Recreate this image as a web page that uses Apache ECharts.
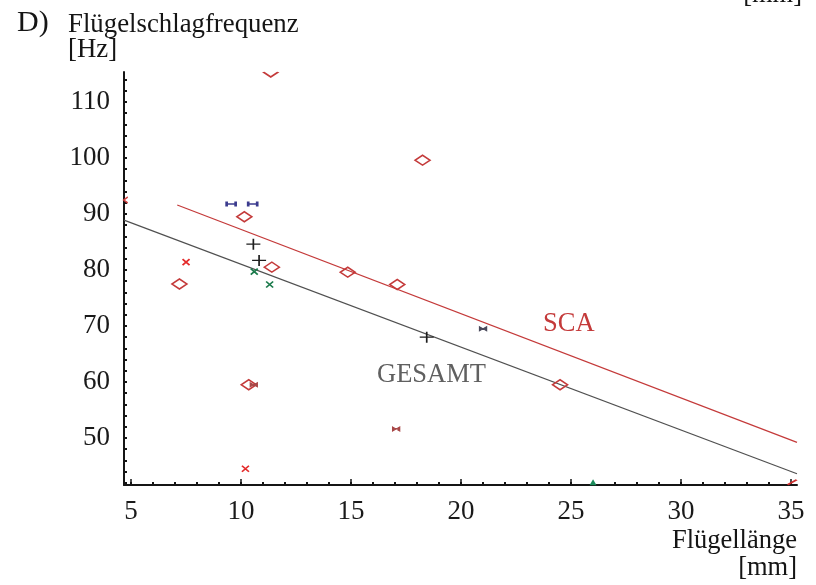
<!DOCTYPE html>
<html>
<head>
<meta charset="utf-8">
<script src="https://cdn.jsdelivr.net/npm/echarts@6/dist/echarts.min.js"></script>
<style>
  html, body { margin: 0; padding: 0; background: #fff; }
  #chart { width: 816px; height: 585px; }
</style>
</head>
<body>
<div id="chart"></div>
<script>
// Wing length (mm) vs. wing-beat frequency (Hz)

// axis ranges and tick labels
const xRange = [4.68, 35.27];
const yRange = [41.6, 115.35];
const xTickLabels = [5, 10, 15, 20, 25, 30, 35];
const yTickLabels = [50, 60, 70, 80, 90, 100, 110];

// SCA (open diamonds)
const scaLength = [7.2, 10.15, 11.4, 14.85, 17.1, 18.25, 24.5, 10.35];
const scaFreq   = [77.5, 89.5, 80.5, 79.6, 77.4, 99.6, 59.5, 59.5];
// SCA point cut at the top edge of the plot
const scaTopLength = [11.35];
const scaTopFreq   = [114.9];

// other groups
const beamLength  = [9.55, 10.53];
const beamFreq    = [91.8, 91.8];
const plusLength  = [10.56, 10.82, 18.44];
const plusFreq    = [84.6, 81.7, 68.0];
const greenXLength = [10.6, 11.3];
const greenXFreq   = [79.7, 77.4];
const redXLength  = [7.5, 10.2];
const redXFreq    = [81.4, 44.5];
const bowDarkLength = [21.0];
const bowDarkFreq   = [69.5];
const bowRedLength  = [17.05, 10.58];
const bowRedFreq    = [51.6, 59.5];
const triLength   = [26.0];
const triFreq     = [42.1];
const edgeLeftLength  = [4.76];
const edgeLeftFreq    = [92.5];
const edgeRightLength = [35.05];
const edgeRightFreq   = [42.1];

// regression lines (end points)
const gesamtLineLength = [4.68, 35.27];
const gesamtLineFreq   = [88.9, 43.6];
const scaLineLength    = [7.1, 35.27];
const scaLineFreq      = [91.6, 49.2];

const FONT = '"Liberation Serif", "Times New Roman", serif';
const RED = '#c43a3a';

function pairs(xs, ys) { return xs.map((x, i) => [x, ys[i]]); }
function range(a, b, step) { const r = []; for (let v = a; v <= b + 1e-9; v += step) r.push(v); return r; }

function scatter(name, xs, ys, symbol, size, stroke, fill, width) {
  return {
    name, type: 'scatter', data: pairs(xs, ys),
    symbol, symbolSize: size, clip: false, z: 5,
    itemStyle: { color: fill, borderColor: stroke, borderWidth: width, opacity: 1 },
    emphasis: { disabled: true }
  };
}

const SYM = {
  diamond: 'path://M0,5 L8,0 L16,5 L8,10 Z',
  chevron: 'path://M0,0 L8,5 L16,0',
  plus: 'path://M0,5 L14,5 M7,0 L7,10',
  cross: 'path://M0,0 L10,10 M0,10 L10,0',
  beam: 'path://M0,0 L0,6 M0,3 L10,3 M10,0 L10,6',
  bow: 'path://M0,0 L10,6 L10,0 L0,6 Z',
  leftTick: 'path://M6,0 L0,4 L6,8',
  slash: 'path://M0,6 L10,0'
};
const NONE = 'rgba(255,255,255,0)';

function label(x, y, text, size, color, align) {
  return { type: 'text', x, y, silent: true,
           style: { text, font: size + 'px ' + FONT, fill: color, align, verticalAlign: 'middle' } };
}

const chart = echarts.init(document.getElementById('chart'), null, { renderer: 'canvas' });

chart.setOption({
  backgroundColor: '#ffffff',
  animation: false,
  grid: { left: 124, right: 19, top: 72, bottom: 100 },
  xAxis: [
    {
      type: 'value', min: xRange[0], max: xRange[1],
      axisLine: { show: true, onZero: false, lineStyle: { color: '#151515', width: 2 } },
      axisTick: { show: true, inside: true, length: 6, customValues: xTickLabels,
                  lineStyle: { color: '#151515', width: 1.5 } },
      axisLabel: { customValues: xTickLabels, margin: 13, fontSize: 27, fontFamily: FONT, color: '#1a1a1a' },
      splitLine: { show: false }
    },
    {
      type: 'value', min: xRange[0], max: xRange[1], position: 'bottom', offset: 0,
      axisLine: { show: false },
      axisTick: { show: true, inside: true, length: 3, customValues: range(5, 35, 1),
                  lineStyle: { color: '#151515', width: 2 } },
      axisLabel: { show: false },
      splitLine: { show: false }
    }
  ],
  yAxis: {
    type: 'value', min: yRange[0], max: yRange[1],
    axisLine: { show: true, onZero: false, lineStyle: { color: '#151515', width: 2 } },
    axisTick: { show: true, inside: true, length: 3, customValues: range(42, 114, 2),
                lineStyle: { color: '#151515', width: 2 } },
    axisLabel: { customValues: yTickLabels, margin: 14, fontSize: 27, fontFamily: FONT, color: '#1a1a1a' },
    splitLine: { show: false }
  },
  series: [
    {
      name: 'GESAMT', type: 'line', data: pairs(gesamtLineLength, gesamtLineFreq),
      symbol: 'none', lineStyle: { color: '#505050', width: 1.2 }, z: 3, silent: true
    },
    {
      name: 'SCA', type: 'line', data: pairs(scaLineLength, scaLineFreq),
      symbol: 'none', lineStyle: { color: RED, width: 1.3 }, z: 3, silent: true
    },
    scatter('SCA Punkte', scaLength, scaFreq, SYM.diamond, [15, 10], RED, NONE, 1.6),
    scatter('SCA oben', scaTopLength, scaTopFreq, SYM.chevron, [15, 5], RED, NONE, 1.6),
    scatter('Gruppe 1', beamLength, beamFreq, SYM.beam, [9, 5], '#3b3b8e', NONE, 2),
    scatter('Gruppe 2', plusLength, plusFreq, SYM.plus, [14, 11], '#1e1e1e', NONE, 1.5),
    scatter('Gruppe 3', greenXLength, greenXFreq, SYM.cross, [7, 6], '#1b7a4b', NONE, 1.6),
    scatter('Gruppe 4', redXLength, redXFreq, SYM.cross, [7, 6], '#e42a2a', NONE, 1.6),
    scatter('Gruppe 5', bowDarkLength, bowDarkFreq, SYM.bow, [7, 4], '#4a4a5c', '#4a4a5c', 1),
    scatter('Gruppe 6', bowRedLength, bowRedFreq, SYM.bow, [7, 4], '#a84848', '#a84848', 1),
    scatter('Gruppe 7', triLength, triFreq, 'triangle', [7, 6], '#1a8a5a', '#1a8a5a', 0),
    scatter('Rand links', edgeLeftLength, edgeLeftFreq, SYM.leftTick, [4, 6], '#d04040', NONE, 1.5),
    scatter('Rand rechts', edgeRightLength, edgeRightFreq, SYM.slash, [9, 5], '#d03030', NONE, 2)
  ],
  graphic: [
    label(17, 23.5, 'D)', 30, '#151515', 'left'),
    label(68, 25, 'Flügelschlagfrequenz', 26.8, '#151515', 'left'),
    label(68, 50, '[Hz]', 26.8, '#151515', 'left'),
    label(797, 541, 'Flügellänge', 26.5, '#151515', 'right'),
    label(797, 568, '[mm]', 26.5, '#151515', 'right'),
    label(802, -4.5, '[mm]', 26.5, '#151515', 'right'),
    label(543, 324, 'SCA', 26.5, RED, 'left'),
    label(377, 375, 'GESAMT', 26.5, '#606060', 'left')
  ]
});
</script>
</body>
</html>
